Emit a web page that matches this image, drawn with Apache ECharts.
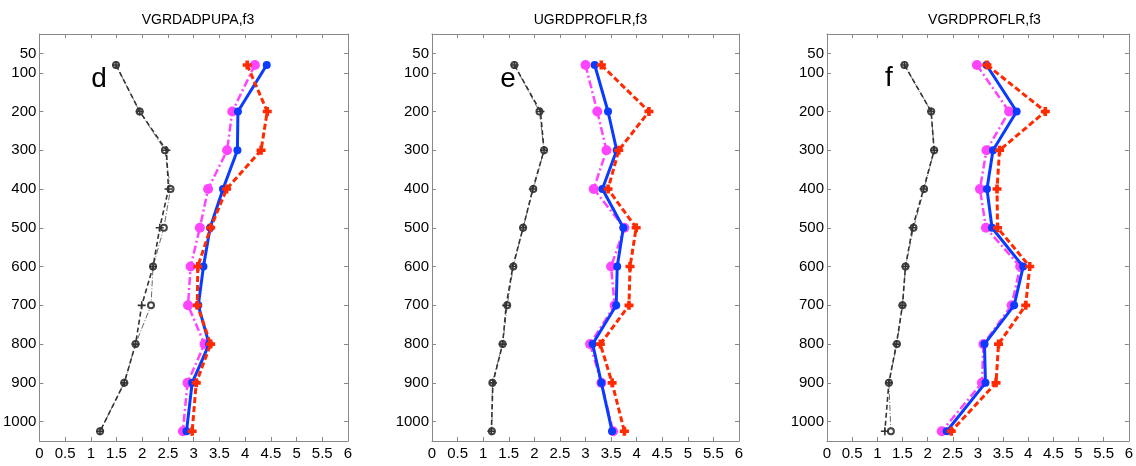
<!DOCTYPE html>
<html>
<head>
<meta charset="utf-8">
<script src="https://cdn.jsdelivr.net/npm/echarts@6/dist/echarts.min.js"></script>
<style>
html,body{margin:0;padding:0;background:#fff;}
#chart{width:1136px;height:466px;}
</style>
</head>
<body>
<div id="chart"></div>
<script>
// Pressure levels (hPa)
const levels = [80, 200, 300, 400, 500, 600, 700, 800, 900, 1025];
const yTicks = [50, 100, 200, 300, 400, 500, 600, 700, 800, 900, 1000];
const panelTitles = ['VGRDADPUPA,f3', 'UGRDPROFLR,f3', 'VGRDPROFLR,f3'];
const panelLetters = ['d', 'e', 'f'];

// Panel d
const dBlackPlus = [1.49, 1.95, 2.47, 2.51, 2.34, 2.21, 1.99, 1.87, 1.65, 1.18];
const dBlackCircle = [1.49, 1.95, 2.44, 2.55, 2.42, 2.21, 2.17, 1.87, 1.65, 1.18];
const dRed = [4.04, 4.43, 4.31, 3.64, 3.33, 3.08, 3.07, 3.33, 3.05, 2.97];
const dBlue = [4.42, 3.86, 3.85, 3.57, 3.32, 3.19, 3.09, 3.30, 2.97, 2.86];
const dMagenta = [4.19, 3.75, 3.65, 3.28, 3.12, 2.94, 2.89, 3.21, 2.88, 2.79];

// Panel e
const eBlackPlus = [1.61, 2.12, 2.19, 1.97, 1.78, 1.58, 1.45, 1.38, 1.19, 1.16];
const eBlackCircle = [1.61, 2.10, 2.19, 1.98, 1.78, 1.59, 1.47, 1.38, 1.18, 1.17];
const eRed = [3.31, 4.24, 3.65, 3.44, 3.99, 3.87, 3.85, 3.29, 3.52, 3.76];
const eBlue = [3.18, 3.44, 3.61, 3.33, 3.74, 3.62, 3.60, 3.14, 3.31, 3.52];
const eMagenta = [3.00, 3.23, 3.41, 3.16, 3.76, 3.50, 3.57, 3.09, 3.31, 3.54];

// Panel f
const fBlackPlus = [1.54, 2.07, 2.13, 1.92, 1.70, 1.56, 1.50, 1.38, 1.23, 1.15];
const fBlackCircle = [1.54, 2.07, 2.13, 1.93, 1.72, 1.56, 1.50, 1.39, 1.23, 1.27];
const fRed = [3.18, 4.34, 3.43, 3.38, 3.39, 4.03, 3.95, 3.41, 3.36, 2.47];
const fBlue = [3.17, 3.77, 3.30, 3.18, 3.28, 3.90, 3.72, 3.13, 3.15, 2.38];
const fMagenta = [2.98, 3.62, 3.17, 3.04, 3.16, 3.84, 3.67, 3.11, 3.08, 2.28];

const panels = [
  {black: dBlackPlus, blackO: dBlackCircle, red: dRed, blue: dBlue, magenta: dMagenta},
  {black: eBlackPlus, blackO: eBlackCircle, red: eRed, blue: eBlue, magenta: eMagenta},
  {black: fBlackPlus, blackO: fBlackCircle, red: fRed, blue: fBlue, magenta: fMagenta}
];

const FONT = '"Liberation Sans", Arial, sans-serif';
const gridLefts = [38, 432, 827];
const gridWidths = [310, 307, 305];
const letterPos = [[99, 79], [508, 79], [889, 78]];
const PLUS = 'path://M-1,-5h2v4h4v2h-4v4h-2v-4h-4v-2h4z';
const BOLDPLUS = 'path://M-2,-5h4v3h3v4h-3v3h-4v-3h-3v-4h3z';
const axisColor = '#888';

const pair = (xs) => xs.map((v, i) => [v, levels[i]]);

const grids = [], xAxes = [], yAxes = [], series = [], titles = [], graphics = [];
panels.forEach((p, k) => {
  grids.push({left: gridLefts[k], width: gridWidths[k], top: 34, bottom: 25, containLabel: false});
  const xBase = {
    gridIndex: k, type: 'value', min: 0, max: 6, interval: 0.5,
    axisLine: {show: true, onZero: false, lineStyle: {color: axisColor, width: 1}},
    axisTick: {show: true, inside: true, length: 4, lineStyle: {color: axisColor}},
    splitLine: {show: false}
  };
  xAxes.push(Object.assign({}, xBase, {
    position: 'bottom',
    axisLabel: {show: true, color: '#000', fontSize: 15, fontFamily: FONT, margin: 5,
                formatter: (v) => String(v)}
  }));
  xAxes.push(Object.assign({}, xBase, {position: 'top', axisLabel: {show: false}}));
  const yBase = {
    gridIndex: k, type: 'value', min: 0, max: 1050, inverse: true,
    axisLine: {show: true, onZero: false, lineStyle: {color: axisColor, width: 1}},
    splitLine: {show: false}
  };
  yAxes.push(Object.assign({}, yBase, {
    position: 'left',
    axisTick: {show: true, inside: true, length: 4, customValues: yTicks, lineStyle: {color: axisColor}},
    axisLabel: {show: true, color: '#000', fontSize: 15, fontFamily: FONT, margin: 3,
                customValues: yTicks, formatter: (v) => String(v)}
  }));
  yAxes.push(Object.assign({}, yBase, {
    position: 'right',
    axisTick: {show: true, inside: true, length: 4, customValues: yTicks, lineStyle: {color: axisColor}},
    axisLabel: {show: false, customValues: yTicks}
  }));
  const xi = k * 2, yi = k * 2;
  series.push({
    type: 'line', xAxisIndex: xi, yAxisIndex: yi, data: pair(p.blackO),
    symbol: 'emptyCircle', symbolSize: 6, showSymbol: true,
    lineStyle: {color: '#444', width: 0.8, type: [6, 2, 1, 2]},
    itemStyle: {color: '#444', borderColor: '#444', borderWidth: 0.8}, silent: true, z: 2
  });
  series.push({
    type: 'line', xAxisIndex: xi, yAxisIndex: yi, data: pair(p.black),
    symbol: PLUS, symbolSize: 8,
    lineStyle: {color: '#333', width: 1.6, type: [5, 3]},
    itemStyle: {color: '#333'}, silent: true, z: 3
  });
  series.push({
    type: 'line', xAxisIndex: xi, yAxisIndex: yi, data: pair(p.magenta),
    symbol: 'circle', symbolSize: 10,
    lineStyle: {color: '#ff44ff', width: 2.5, type: [8, 3, 2, 3]},
    itemStyle: {color: '#ff44ff'}, silent: true, z: 4
  });
  series.push({
    type: 'line', xAxisIndex: xi, yAxisIndex: yi, data: pair(p.blue),
    symbol: 'circle', symbolSize: 8,
    lineStyle: {color: '#0a3cff', width: 3},
    itemStyle: {color: '#0a3cff'}, silent: true, z: 5
  });
  series.push({
    type: 'line', xAxisIndex: xi, yAxisIndex: yi, data: pair(p.red),
    symbol: BOLDPLUS, symbolSize: 9,
    lineStyle: {color: '#ff2a00', width: 3, type: [6, 3]},
    itemStyle: {color: '#ff2a00'}, silent: true, z: 6
  });
  titles.push({
    text: panelTitles[k], left: gridLefts[k] + gridWidths[k] / 2, top: 8, textAlign: 'center',
    textStyle: {fontSize: 14, fontWeight: 'normal', color: '#000', fontFamily: FONT}
  });
  graphics.push({
    type: 'text', x: letterPos[k][0], y: letterPos[k][1],
    style: {text: panelLetters[k], fontSize: 28, fontFamily: FONT, fill: '#000',
            textAlign: 'center', textVerticalAlign: 'middle'}
  });
});

const chart = echarts.init(document.getElementById('chart'), null, {renderer: 'canvas'});
chart.setOption({
  animation: false,
  backgroundColor: '#fff',
  title: titles,
  grid: grids,
  xAxis: xAxes,
  yAxis: yAxes,
  series: series,
  graphic: graphics
});
</script>
</body>
</html>
